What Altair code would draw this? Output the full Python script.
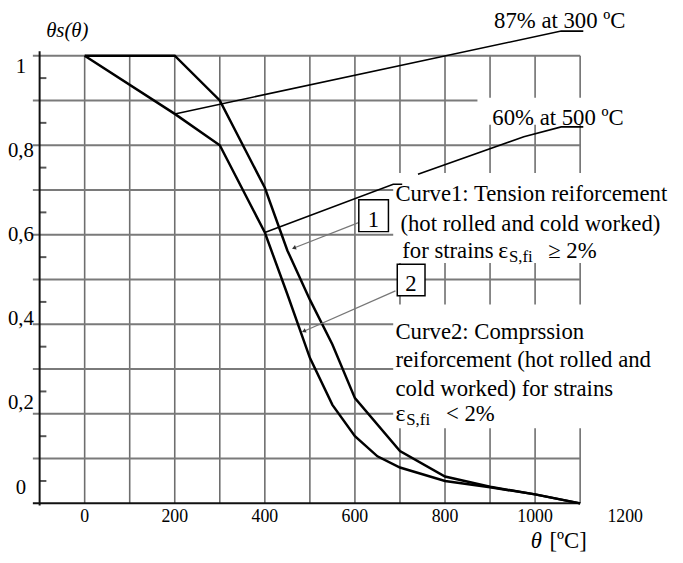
import altair as alt
import pandas as pd

# ---- curve data (temperature in degC, reduction factor) ----
temp_tension = [0, 200, 300, 400, 450, 500, 550, 600, 700, 800, 900, 1000, 1100]
ks_tension = [1.0, 1.0, 0.9, 0.705, 0.565, 0.455, 0.355, 0.235, 0.117, 0.06, 0.037, 0.02, 0.0]
temp_compr = [0, 200, 300, 400, 450, 500, 550, 600, 650, 700, 800, 900, 1000, 1100]
ks_compr = [1.0, 0.87, 0.8, 0.605, 0.467, 0.325, 0.22, 0.15, 0.105, 0.08, 0.05, 0.036, 0.02, 0.0]

# ---- axes ----
x_tick_values = [0, 200, 400, 600, 800, 1000, 1200]
y_tick_values = [0, 0.2, 0.4, 0.6, 0.8, 1.0]
y_tick_labels = ["0", "0,2", "0,4", "0,6", "0,8", "1"]
grid_temps = [0, 100, 200, 300, 400, 500, 600, 700, 800, 900, 1000, 1100]
grid_levels = [0.1, 0.2, 0.3, 0.4, 0.5, 0.6, 0.7, 0.8, 0.9, 1.0]
minor_levels = [0.05, 0.15, 0.25, 0.35, 0.45, 0.55, 0.65, 0.75, 0.85, 0.95]

# ---- annotations (data coordinates) ----
lead_group = ["a", "a", "a", "b", "b", "b", "c", "c", "c", "c"]
lead_x = [200, 1058, 1107, 400, 685, 705, 740, 975, 1058, 1107]
lead_y = [0.87, 1.055, 1.055, 0.605, 0.713, 0.713, 0.735, 0.819, 0.841, 0.841]

arrow_group = ["1", "1", "2", "2"]
arrow_x = [608, 466, 690, 488]
arrow_y = [0.627, 0.571, 0.4746, 0.385]
head_x = [466, 488]
head_y = [0.571, 0.385]
head_angle = [249, 246]

mask_x1 = [872, 685, 685]
mask_x2 = [1230, 1320, 1320]
mask_y1 = [0.846, 0.537, 0.168]
mask_y2 = [0.906, 0.738, 0.444]

numbox_x1 = [608.6, 694.0]
numbox_x2 = [674.4, 755.6]
numbox_y1 = [0.607, 0.4636]
numbox_y2 = [0.678, 0.5342]

note_text = ["87% at 300 \u00baC", "60% at 500 \u00baC",
             "Curve1: Tension reiforcement", "(hot rolled and cold worked)",
             "for strains", "\u2265 2%",
             "Curve2: Comprssion", "reiforcement (hot rolled and",
             "cold worked) for strains", "< 2%", "1", "2"]
note_x = [909, 905, 690, 701, 705, 1029, 690, 690, 690, 802, 628.5, 711.7]
note_y = [1.062, 0.8455, 0.6755, 0.6093, 0.5475, 0.5475,
          0.3664, 0.3046, 0.2406, 0.1832, 0.618, 0.4746]
eps_x = [918, 690]
eps_y = [0.5475, 0.1832]
sub_text = ["S,fi", "S,fi"]
sub_x = [942, 714]
sub_y = [0.5386, 0.1744]

FONT = "Liberation Serif"
xs = alt.Scale(domain=[-100, 1100], nice=False, zero=False)
ys = alt.Scale(domain=[0, 1], nice=False, zero=False)


def X(f):
    return alt.X(f, type="quantitative", scale=xs, axis=None)


def Y(f):
    return alt.Y(f, type="quantitative", scale=ys, axis=None)


curves = pd.concat([
    pd.DataFrame({"t": temp_tension, "k": ks_tension, "c": "1"}),
    pd.DataFrame({"t": temp_compr, "k": ks_compr, "c": "2"}),
])

vgrid = pd.DataFrame({"gx": grid_temps, "y0": 0.0, "y1": 1.0})
hgrid = pd.DataFrame({"gy": grid_levels, "x0": -115, "x1": 1100})
minor = pd.DataFrame({"my": minor_levels, "x0": -100, "x1": -85})
axes_df = pd.DataFrame({"x0": [-100, -115], "x1": [-100, 1100],
                        "y0": [-0.005, 0.0], "y1": [1.01, 0.0]})

vgrid_layer = alt.Chart(vgrid).mark_rule(color="#6e6e6e", strokeWidth=1.6).encode(
    x=X("gx"), y=Y("y0"), y2="y1")
hgrid_layer = alt.Chart(hgrid).mark_rule(color="#7a7a7a", strokeWidth=2).encode(
    x=X("x0"), x2="x1", y=Y("gy"))
minor_layer = alt.Chart(minor).mark_rule(color="#555", strokeWidth=2).encode(
    x=X("x0"), x2="x1", y=Y("my"))
axes_layer = alt.Chart(axes_df).mark_rule(color="#111", strokeWidth=2).encode(
    x=X("x0"), x2="x1", y=Y("y0"), y2="y1")

masks = pd.DataFrame({"x1": mask_x1, "x2": mask_x2, "y1": mask_y1, "y2": mask_y2})
mask_layer = alt.Chart(masks).mark_rect(color="white").encode(
    x=X("x1"), x2="x2", y=Y("y1"), y2="y2")

curve_layer = alt.Chart(curves).mark_line(color="black", strokeWidth=2.5).encode(
    x=X("t"), y=Y("k"), detail="c:N")

leads = pd.DataFrame({"g": lead_group, "x": lead_x, "y": lead_y,
                      "o": list(range(len(lead_x)))})
lead_layer = alt.Chart(leads).mark_line(color="black", strokeWidth=1.6).encode(
    x=X("x"), y=Y("y"), detail="g:N", order="o:Q")

arrows = pd.DataFrame({"g": arrow_group, "x": arrow_x, "y": arrow_y,
                       "o": list(range(len(arrow_x)))})
arrow_layer = alt.Chart(arrows).mark_line(color="#777", strokeWidth=1.3).encode(
    x=X("x"), y=Y("y"), detail="g:N", order="o:Q")
heads = pd.DataFrame({"x": head_x, "y": head_y, "a": head_angle})
head_layer = alt.Chart(heads).mark_point(shape="triangle", filled=True, size=22,
                                         color="#333", opacity=1).encode(
    x=X("x"), y=Y("y"), angle=alt.Angle("a:Q", scale=None))

numbox = pd.DataFrame({"x1": numbox_x1, "x2": numbox_x2, "y1": numbox_y1, "y2": numbox_y2})
numbox_layer = alt.Chart(numbox).mark_rect(fill="white", stroke="black", strokeWidth=1.5).encode(
    x=X("x1"), x2="x2", y=Y("y1"), y2="y2")

notes = pd.DataFrame({"t": note_text, "x": note_x, "y": note_y})
note_layer = alt.Chart(notes).mark_text(font=FONT, fontSize=23, align="left",
                                        baseline="alphabetic", color="black").encode(
    x=X("x"), y=Y("y"), text="t:N")
eps = pd.DataFrame({"t": ["\u03b5", "\u03b5"], "x": eps_x, "y": eps_y})
eps_layer = alt.Chart(eps).mark_text(font=FONT, fontSize=24, align="left",
                                     baseline="alphabetic", color="black").encode(
    x=X("x"), y=Y("y"), text="t:N")
subs = pd.DataFrame({"t": sub_text, "x": sub_x, "y": sub_y})
sub_layer = alt.Chart(subs).mark_text(font=FONT, fontSize=17, align="left",
                                      baseline="alphabetic", color="black").encode(
    x=X("x"), y=Y("y"), text="t:N")

ylab = pd.DataFrame({"v": y_tick_values, "lab": y_tick_labels})
ylab_layer = alt.Chart(ylab).transform_calculate(
    ypos="0.035 + datum.v * 0.94").mark_text(
    font=FONT, fontSize=21, align="center", baseline="middle", color="black").encode(
    x=alt.value(-19), y=Y("ypos"), text="lab:N")

xlab = pd.DataFrame({"v": x_tick_values})
xlab_layer = alt.Chart(xlab).mark_text(
    font=FONT, fontSize=18, align="center", baseline="middle", color="black").encode(
    x=X("v"), y=alt.value(467), text="v:N")

ytitle = alt.Chart(pd.DataFrame({"t": ["\u03b8s(\u03b8)"]})).mark_text(
    font=FONT, fontSize=21, fontStyle="italic", align="center", baseline="middle").encode(
    x=alt.value(28), y=alt.value(-25), text="t:N")
xtitle1 = alt.Chart(pd.DataFrame({"t": ["\u03b8"]})).mark_text(
    font=FONT, fontSize=23, fontStyle="italic", align="left", baseline="alphabetic").encode(
    x=alt.value(497), y=alt.value(498), text="t:N")
xtitle2 = alt.Chart(pd.DataFrame({"t": ["[\u00baC]"]})).mark_text(
    font=FONT, fontSize=23, align="left", baseline="alphabetic").encode(
    x=alt.value(516), y=alt.value(498), text="t:N")

chart = alt.layer(
    vgrid_layer, hgrid_layer, minor_layer, mask_layer, axes_layer,
    curve_layer, lead_layer, arrow_layer, head_layer, numbox_layer,
    note_layer, eps_layer, sub_layer, ylab_layer, xlab_layer, ytitle, xtitle1, xtitle2,
).properties(
    width=547, height=453,
    autosize=alt.AutoSizeParams(type="none"),
    padding={"left": 32, "top": 45, "right": 96, "bottom": 49},
).configure_view(stroke=None)

chart.save("out.html", embed_options={"renderer": "svg", "actions": False})
